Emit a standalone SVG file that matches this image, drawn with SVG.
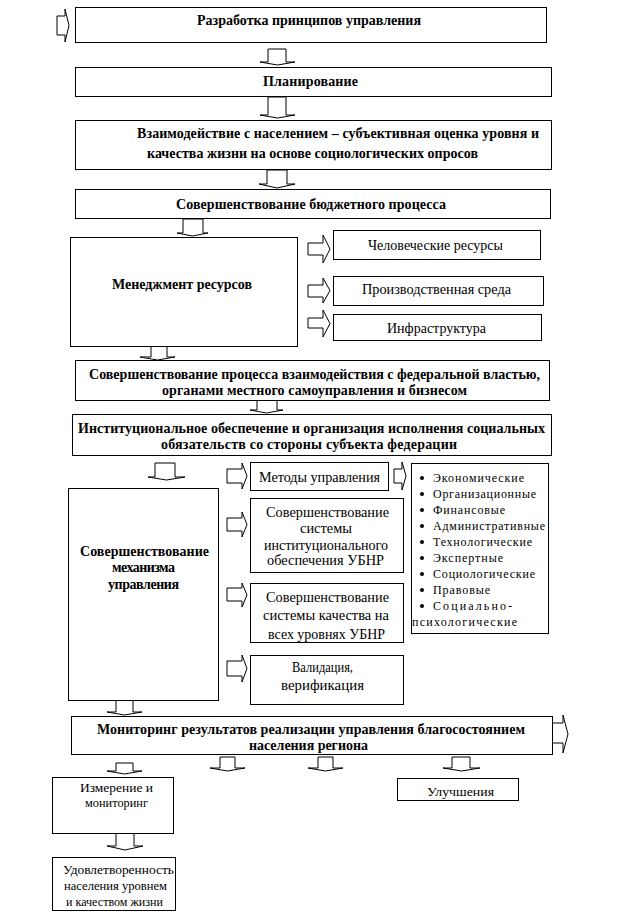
<svg xmlns="http://www.w3.org/2000/svg" width="630" height="918" viewBox="0 0 630 918">
<style>
rect.n{fill:#fff;stroke:#000;stroke-width:1}
polygon.a{fill:#fff;stroke:#000;stroke-width:1;stroke-linejoin:miter}
text{font-family:"Liberation Serif","Times New Roman",serif;fill:#000}
text.bd{font-size:14px;font-weight:bold}
text.nm{font-size:14px}
text.sm{font-size:13px}
text.ls{font-size:12px}
</style>
<rect width="630" height="918" fill="#fff"/>
<g id="connectors">
<polygon class="a" points="57,16 65,16 65,9 69,25.5 65,42 65,35 57,35"/>
<polygon class="a" points="268,49 286,49 286,62 295,62 277.5,65 260,62 268,62"/>
<polygon class="a" points="268,97 286,97 286,115 295,115 277.5,118 260,115 268,115"/>
<polygon class="a" points="267,170 287,170 287,184 295,184 277,188 259,184 267,184"/>
<polygon class="a" points="183,219 203,219 203,233 208,233 192.5,236 177,233 183,233"/>
<polygon class="a" points="308,243 323,243 323,235 330,249 323,263 323,255 308,255"/>
<polygon class="a" points="308,285 323,285 323,278 330,290.5 323,303 323,297 308,297"/>
<polygon class="a" points="308,318 323,318 323,310 330,323.5 323,337 323,328 308,328"/>
<polygon class="a" points="151,346 167,346 167,357 175,357 157.5,360 140,357 151,357"/>
<polygon class="a" points="257,400 277,400 277,410 283,410 266.5,413 250,410 257,410"/>
<polygon class="a" points="155,463 175,463 175,477 185,477 166.5,480 148,477 155,477"/>
<polygon class="a" points="227,469 242,469 242,463 247,476 242,489 242,483 227,483"/>
<polygon class="a" points="394,469 402,469 402,462 406,476 402,490 402,483 394,483"/>
<polygon class="a" points="227,518 242,518 242,512 247,524.5 242,537 242,531 227,531"/>
<polygon class="a" points="227,588 242,588 242,583 247,595 242,607 242,601 227,601"/>
<polygon class="a" points="227,661 242,661 242,655 247,668.5 242,682 242,676 227,676"/>
<polygon class="a" points="116,700 133,700 133,712 142,712 124.5,715 107,712 116,712"/>
<polygon class="a" points="552,723 563,723 563,715 568,734 563,753 563,743 552,743"/>
<polygon class="a" points="116,763 133,763 133,771 142,771 124.5,774 107,771 116,771"/>
<polygon class="a" points="220,757 235,757 235,768 245,768 227.5,771 210,768 220,768"/>
<polygon class="a" points="318,757 333,757 333,768 343,768 325.5,771 308,768 318,768"/>
<polygon class="a" points="452,757 470,757 470,768 480,768 461.5,771 443,768 452,768"/>
<polygon class="a" points="116,833 134,833 134,846 143,846 125,850 107,846 116,846"/>
</g>
<g id="n1">
<rect class="n" x="75.5" y="7.5" width="471" height="35"/>
<text class="bd" x="197" y="25" textLength="224">Разработка принципов управления</text>
</g>
<g id="n2">
<rect class="n" x="75.5" y="67.5" width="476" height="29"/>
<text class="bd" x="263" y="86" textLength="95">Планирование</text>
</g>
<g id="n3">
<rect class="n" x="75.5" y="120.5" width="476" height="49"/>
<text class="bd" x="137" y="138" textLength="402">Взаимодействие с населением  – субъективная оценка уровня и</text>
<text class="bd" x="147" y="158" textLength="331">качества жизни на основе социологических опросов</text>
</g>
<g id="n4">
<rect class="n" x="75.5" y="189.5" width="475" height="29"/>
<text class="bd" x="176" y="209" textLength="270">Совершенствование бюджетного процесса</text>
</g>
<g id="n5">
<rect class="n" x="70.5" y="237.5" width="227" height="109"/>
<text class="bd" x="112" y="289" textLength="140">Менеджмент ресурсов</text>
</g>
<g id="n6">
<rect class="n" x="333.5" y="230.5" width="207" height="29"/>
<text class="nm" x="368" y="250" textLength="135" lengthAdjust="spacingAndGlyphs">Человеческие ресурсы</text>
</g>
<g id="n7">
<rect class="n" x="333.5" y="276.5" width="210" height="29"/>
<text class="nm" x="362" y="294" textLength="149" lengthAdjust="spacingAndGlyphs">Производственная среда</text>
</g>
<g id="n8">
<rect class="n" x="333.5" y="314.5" width="208" height="26"/>
<text class="nm" x="387" y="333" textLength="99" lengthAdjust="spacingAndGlyphs">Инфраструктура</text>
</g>
<g id="n9">
<rect class="n" x="75.5" y="360.5" width="474" height="40"/>
<text class="bd" x="89" y="379" textLength="451">Совершенствование процесса взаимодействия с федеральной властью,</text>
<text class="bd" x="162" y="395" textLength="305">органами местного самоуправления и бизнесом</text>
</g>
<g id="n10">
<rect class="n" x="72.5" y="414.5" width="479" height="41"/>
<text class="bd" x="78" y="433" textLength="467">Институциональное обеспечение и организация исполнения социальных</text>
<text class="bd" x="161" y="449" textLength="296">обязательств со стороны субъекта федерации</text>
</g>
<g id="n11">
<rect class="n" x="68.5" y="488.5" width="150" height="212"/>
<text class="bd" x="80" y="556" textLength="129">Совершенствование</text>
<text class="bd" x="112" y="572" textLength="63">механизма</text>
<text class="bd" x="108" y="589" textLength="71">управления</text>
</g>
<g id="n12">
<rect class="n" x="250.5" y="462.5" width="138" height="28"/>
<text class="nm" x="259" y="482" textLength="121" lengthAdjust="spacingAndGlyphs">Методы управления</text>
</g>
<g id="n13">
<rect class="n" x="411.5" y="463.5" width="137" height="170"/>
<g>
<circle cx="422" cy="478" r="2"/><circle cx="422" cy="494" r="2"/><circle cx="422" cy="510" r="2"/>
<circle cx="422" cy="526" r="2"/><circle cx="422" cy="542" r="2"/><circle cx="422" cy="558" r="2"/>
<circle cx="422" cy="574" r="2"/><circle cx="422" cy="590" r="2"/><circle cx="422" cy="606" r="2"/>
</g>
<text class="ls" x="433" y="482" textLength="91">Экономические</text>
<text class="ls" x="433" y="498" textLength="103">Организационные</text>
<text class="ls" x="433" y="514" textLength="72">Финансовые</text>
<text class="ls" x="433" y="530" textLength="112">Административные</text>
<text class="ls" x="433" y="546" textLength="99">Технологические</text>
<text class="ls" x="433" y="562" textLength="70">Экспертные</text>
<text class="ls" x="433" y="578" textLength="102">Социологические</text>
<text class="ls" x="433" y="594" textLength="57">Правовые</text>
<text class="ls" x="433" y="610" textLength="79">Социально-</text>
<text class="ls" x="412" y="626" textLength="105">психологические</text>
</g>
<g id="n14">
<rect class="n" x="250.5" y="498.5" width="153" height="74"/>
<text class="nm" x="266" y="517" textLength="123" lengthAdjust="spacingAndGlyphs">Совершенствование</text>
<text class="nm" x="300" y="533" textLength="52" lengthAdjust="spacingAndGlyphs">системы</text>
<text class="nm" x="264" y="550" textLength="124" lengthAdjust="spacingAndGlyphs">институционального</text>
<text class="nm" x="267" y="565" textLength="117" lengthAdjust="spacingAndGlyphs">обеспечения УБНР</text>
</g>
<g id="n15">
<rect class="n" x="250.5" y="583.5" width="153" height="59"/>
<text class="nm" x="266" y="602" textLength="123" lengthAdjust="spacingAndGlyphs">Совершенствование</text>
<text class="nm" x="263" y="620" textLength="126" lengthAdjust="spacingAndGlyphs">системы качества на</text>
<text class="nm" x="268" y="639" textLength="117" lengthAdjust="spacingAndGlyphs">всех уровнях УБНР</text>
</g>
<g id="n16">
<rect class="n" x="250.5" y="655.5" width="153" height="49"/>
<text class="nm" x="292" y="672" textLength="61" lengthAdjust="spacingAndGlyphs">Валидация,</text>
<text class="nm" x="281" y="690" textLength="83" lengthAdjust="spacingAndGlyphs">верификация</text>
</g>
<g id="n17">
<rect class="n" x="71.5" y="716.5" width="481" height="38"/>
<text class="bd" x="97" y="734" textLength="428">Мониторинг результатов реализации  управления благосостоянием</text>
<text class="bd" x="249" y="750" textLength="119">населения региона</text>
</g>
<g id="n18">
<rect class="n" x="52.5" y="777.5" width="121" height="56"/>
<text class="sm" x="80" y="792" textLength="73" lengthAdjust="spacingAndGlyphs">Измерение и</text>
<text class="sm" x="85" y="807" textLength="63" lengthAdjust="spacingAndGlyphs">мониторинг</text>
</g>
<g id="n19">
<rect class="n" x="397.5" y="778.5" width="121" height="22"/>
<text class="sm" x="427" y="796" textLength="67" lengthAdjust="spacingAndGlyphs">Улучшения</text>
</g>
<g id="n20">
<rect class="n" x="52.5" y="857.5" width="123" height="53"/>
<text class="sm" x="63" y="874" textLength="111" lengthAdjust="spacingAndGlyphs">Удовлетворенность</text>
<text class="sm" x="64" y="890" textLength="103" lengthAdjust="spacingAndGlyphs">населения уровнем</text>
<text class="sm" x="66" y="906" textLength="97" lengthAdjust="spacingAndGlyphs">и качеством жизни</text>
</g>
</svg>
